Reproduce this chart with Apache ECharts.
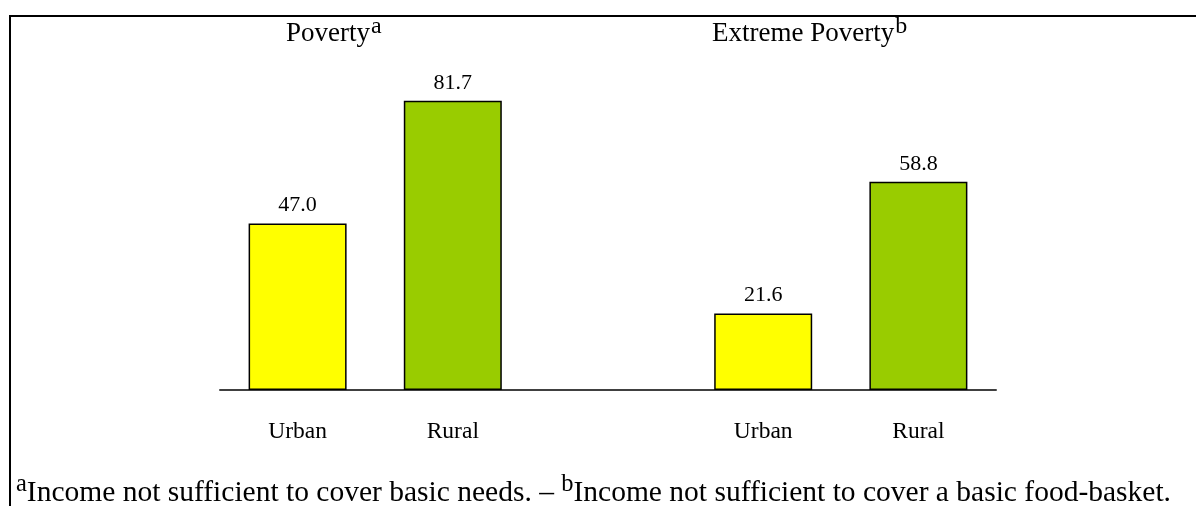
<!DOCTYPE html>
<html>
<head>
<meta charset="utf-8">
<script src="https://cdn.jsdelivr.net/npm/echarts@6/dist/echarts.min.js"></script>
<style>
html,body{margin:0;padding:0;background:#fff;}
#chart{width:1196px;height:506px;}
</style>
</head>
<body>
<div id="chart"></div>
<script>
const groups = ['Poverty', 'Extreme Poverty'];
const groupNotes = ['a', 'b'];
const areas = ['Urban', 'Rural'];
const urbanValues = [47.0, 21.6];
const ruralValues = [81.7, 58.8];
const footnoteMarks = ['a', 'b'];
const footnoteTexts = ['Income not sufficient to cover basic needs. – ', 'Income not sufficient to cover a basic food-basket.'];

const areaColors = {Urban: '#FFFF00', Rural: '#99CC00'};
const FONT = "'Liberation Serif', 'Times New Roman', serif";

// Build categories: group0 urban, rural, gap, group1 urban, rural
const categories = [];
const values = [];
groups.forEach(function (g, gi) {
  if (gi > 0) { categories.push(''); values.push('-'); }
  areas.forEach(function (a) {
    categories.push(a);
    const v = a === 'Urban' ? urbanValues[gi] : ruralValues[gi];
    values.push({value: v, itemStyle: {color: areaColors[a]}});
  });
});

const chart = echarts.init(document.getElementById('chart'), null, {renderer: 'canvas'});

const titleRich = {
  base: {fontFamily: FONT, fontSize: 27, color: '#000', lineHeight: 32, verticalAlign: 'bottom'},
  sup: {fontFamily: FONT, fontSize: 24, color: '#000', lineHeight: 13, verticalAlign: 'top', padding: [0, 0, 0, 1]}
};
const noteRich = {
  base: {fontFamily: FONT, fontSize: 29.5, color: '#000', lineHeight: 36, verticalAlign: 'bottom'},
  sup: {fontFamily: FONT, fontSize: 24.5, color: '#000', lineHeight: 18, verticalAlign: 'top'}
};

const titleX = [286, 712];
const graphics = [
  {type: 'rect', shape: {x: 10, y: 16, width: 1400, height: 800}, style: {fill: 'none', stroke: '#000', lineWidth: 2}, silent: true}
];
groups.forEach(function (g, gi) {
  graphics.push({
    type: 'text', left: titleX[gi], top: 15,
    style: {text: '{base|' + g + '}{sup|' + groupNotes[gi] + '}', rich: titleRich}
  });
});
graphics.push({
  type: 'text', left: 16, top: 472,
  style: {
    text: footnoteMarks.map(function (m, i) { return '{sup|' + m + '}{base|' + footnoteTexts[i] + '}'; }).join(''),
    rich: noteRich
  }
});

chart.setOption({
  animation: false,
  backgroundColor: '#fff',
  grid: {left: 220, right: 200, top: 36, bottom: 116},
  xAxis: {
    type: 'category',
    data: categories,
    axisLine: {lineStyle: {color: '#404040', width: 2}},
    axisTick: {show: false},
    axisLabel: {fontFamily: FONT, fontSize: 23.5, color: '#000', margin: 30}
  },
  yAxis: {type: 'value', min: 0, max: 100, show: false},
  series: [{
    type: 'bar',
    data: values,
    barWidth: 98,
    itemStyle: {borderColor: '#000', borderWidth: 1.5},
    label: {show: true, position: 'top', distance: 7, fontFamily: FONT, fontSize: 22, color: '#000',
      formatter: function (p) { return p.value.toFixed(1); }}
  }],
  graphic: graphics
});
</script>
</body>
</html>
